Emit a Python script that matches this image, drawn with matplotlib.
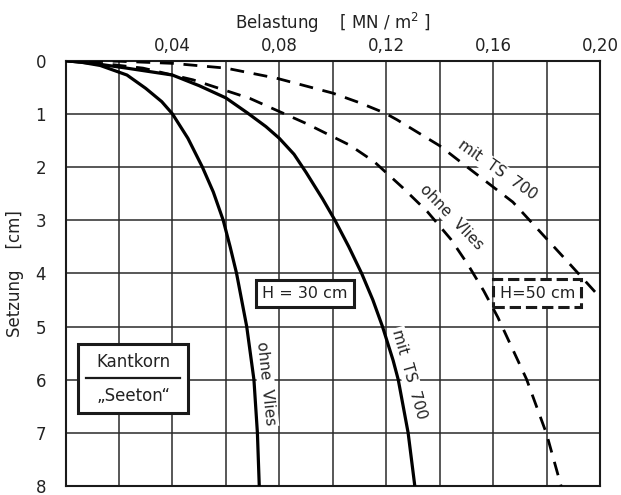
import matplotlib
matplotlib.use("Agg")
import matplotlib.pyplot as plt
from matplotlib.patches import Rectangle

# --- data (load in MN/m^2, settlement in cm) ---
h30_ohne_load = [0, 0.006, 0.013, 0.023, 0.030, 0.036, 0.040, 0.0458, 0.0490, 0.0512, 0.0553, 0.059, 0.0616, 0.064, 0.0678, 0.0705, 0.0718, 0.0725]
h30_ohne_sett = [0, 0.03, 0.09, 0.27, 0.52, 0.77, 1.0, 1.46, 1.78, 2.0, 2.47, 3.0, 3.5, 4.0, 5.0, 6.0, 7.0, 8.0]

h30_mit_load = [0, 0.0103, 0.0229, 0.040, 0.050, 0.060, 0.068, 0.075, 0.080, 0.0855, 0.090, 0.0962, 0.1008, 0.106, 0.1108, 0.115, 0.1186, 0.1226, 0.1245, 0.1282, 0.1307]
h30_mit_sett = [0, 0.05, 0.14, 0.27, 0.47, 0.70, 0.98, 1.24, 1.46, 1.76, 2.10, 2.6, 3.0, 3.5, 4.0, 4.5, 5.0, 5.64, 6.0, 7.0, 8.0]

h50_ohne_load = [0, 0.015, 0.029, 0.0477, 0.069, 0.090, 0.1064, 0.1155, 0.1262, 0.1354, 0.1442, 0.1505, 0.1565, 0.1618, 0.1725, 0.180, 0.1856]
h50_ohne_sett = [0, 0.06, 0.14, 0.36, 0.71, 1.18, 1.59, 1.90, 2.39, 2.84, 3.36, 3.83, 4.33, 4.83, 5.99, 7.02, 8.03]

h50_mit_load = [0, 0.020, 0.040, 0.060, 0.079, 0.100, 0.110, 0.1195, 0.124, 0.140, 0.149, 0.1674, 0.1875, 0.1987, 0.2005]
h50_mit_sett = [0, 0.01, 0.05, 0.14, 0.33, 0.61, 0.79, 0.985, 1.11, 1.60, 1.95, 2.66, 3.76, 4.38, 4.47]

x_ticks = [0.04, 0.08, 0.12, 0.16, 0.20]
x_ticklabels = ["0,04", "0,08", "0,12", "0,16", "0,20"]
x_grid = [0.02, 0.04, 0.06, 0.08, 0.10, 0.12, 0.14, 0.16, 0.18]
y_ticks = [0, 1, 2, 3, 4, 5, 6, 7, 8]

fig = plt.figure(figsize=(6.21, 4.95), dpi=100)
ax = fig.add_axes([0.1055, 0.0182, 0.8607, 0.8592])
ax.set_xlim(0, 0.20)
ax.set_ylim(8, 0)

# grid
for gx in x_grid:
    ax.axvline(gx, color="#2a2a2a", lw=1.1, zorder=1)
for gy in y_ticks[1:-1]:
    ax.axhline(gy, color="#2a2a2a", lw=1.1, zorder=1)
for s in ax.spines.values():
    s.set_linewidth(1.5)
    s.set_color("#1a1a1a")

ax.xaxis.tick_top()
ax.set_xticks(x_ticks)
ax.set_xticklabels(x_ticklabels)
ax.set_yticks(y_ticks)
ax.set_yticklabels([str(v) for v in y_ticks])
ax.tick_params(axis="x", length=0, pad=4, labelsize=12, colors="#222222")
ax.tick_params(axis="y", length=0, pad=14, labelsize=12, colors="#222222")
ax.xaxis.set_label_position("top")
ax.set_xlabel("Belastung    [ MN / m$^{2}$ ]", fontsize=12, color="#222222", labelpad=6)
ax.set_ylabel("Setzung    [cm]", fontsize=12, color="#222222", labelpad=8)

# curves
ax.plot(h30_ohne_load, h30_ohne_sett, color="black", lw=2.3, zorder=3, solid_capstyle="round", solid_joinstyle="round")
ax.plot(h30_mit_load, h30_mit_sett, color="black", lw=2.3, zorder=3, solid_capstyle="round", solid_joinstyle="round")
ax.plot(h50_ohne_load, h50_ohne_sett, color="black", lw=2.0, dashes=(5, 3.5), zorder=3)
ax.plot(h50_mit_load, h50_mit_sett, color="black", lw=2.0, dashes=(5, 3.5), zorder=3)

lbl = dict(fontsize=11, color="#222222", ha="center", va="center", zorder=4,
           bbox=dict(facecolor="white", edgecolor="none", pad=1.0))
ax.text(0.0750, 6.07, "ohne  Vlies", rotation=-84, **lbl)
ax.text(0.1285, 5.89, "mit  TS  700", rotation=-74, **lbl)
ax.text(0.1617, 2.06, "mit  TS  700", rotation=-35, **lbl)
ax.text(0.1444, 2.94, "ohne  Vlies", rotation=-46, **lbl)

# boxes
ax.text(0.0896, 4.38, "H = 30 cm", fontsize=11.5, color="#222222", ha="center", va="center", zorder=5,
        bbox=dict(facecolor="white", edgecolor="#1a1a1a", lw=2.2, boxstyle="square,pad=0.4"))
ax.text(0.1765, 4.37, "H=50 cm", fontsize=11.5, color="#222222", ha="center", va="center", zorder=5,
        bbox=dict(facecolor="white", edgecolor="#1a1a1a", lw=2.2, ls="--", boxstyle="square,pad=0.4"))

ax.add_patch(Rectangle((0.0047, 5.32), 0.0411, 1.30, facecolor="white", edgecolor="#1a1a1a",
                       lw=2.2, zorder=5))
ax.plot([0.0075, 0.0430], [5.97, 5.97], color="#1a1a1a", lw=1.6, zorder=6)
ax.text(0.0253, 5.66, "Kantkorn", fontsize=12, color="#222222", ha="center", va="center", zorder=6)
ax.text(0.0253, 6.30, "\u201eSeeton\u201c", fontsize=12, color="#222222", ha="center", va="center", zorder=6)

fig.savefig("out.png", dpi=100)
